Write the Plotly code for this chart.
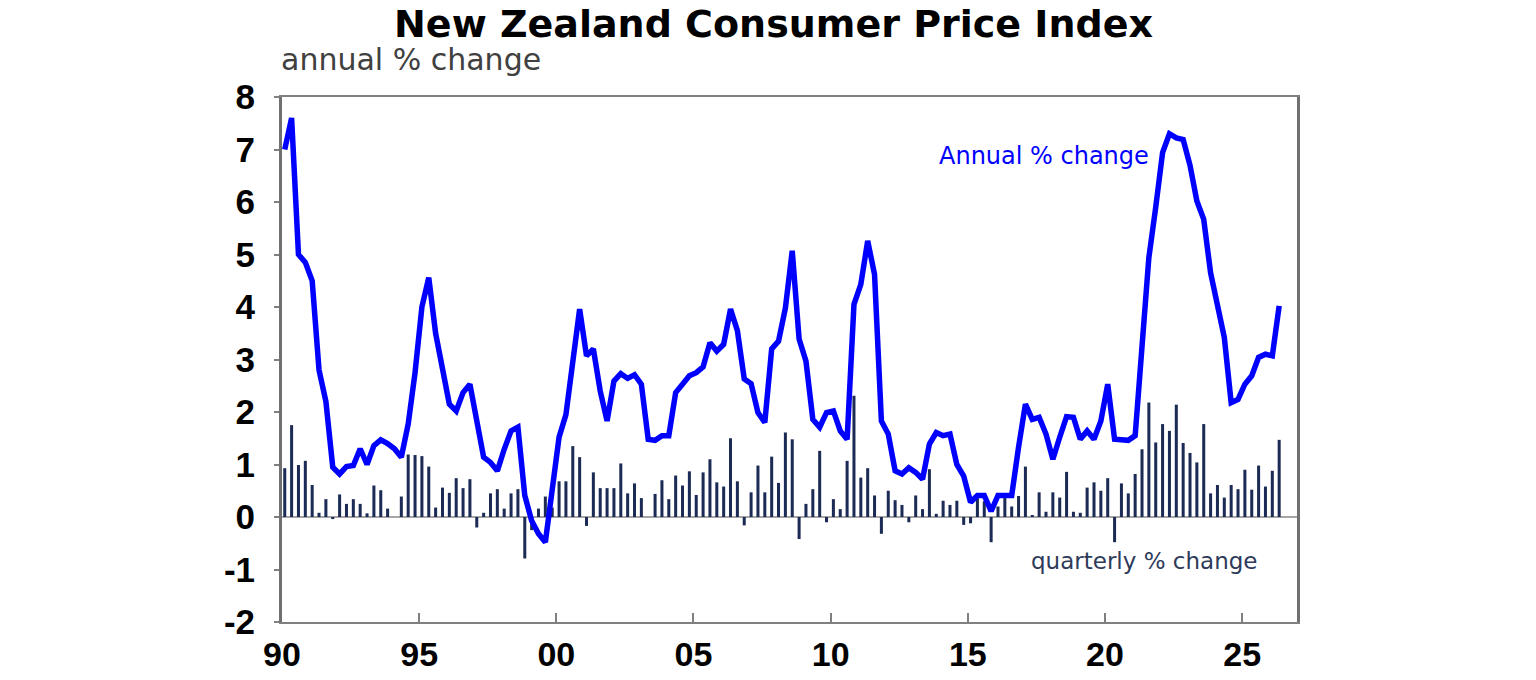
import plotly.graph_objects as go

# Quarterly observations, 1990Q1 onwards
start_year = 1990
annual_change = [
    7.0, 7.6, 5.0, 4.85, 4.5, 2.8, 2.2, 0.95,
    0.82, 0.96, 0.98, 1.3, 1.0, 1.36, 1.47, 1.4,
    1.3, 1.14, 1.77, 2.75, 4.0, 4.56, 3.5, 2.85,
    2.15, 2.02, 2.37, 2.53, 1.8, 1.14, 1.04, 0.88,
    1.29, 1.64, 1.71, 0.41, -0.07, -0.32, -0.48, 0.5,
    1.52, 1.95, 2.91, 3.96, 3.07, 3.2, 2.4, 1.83,
    2.59, 2.73, 2.64, 2.71, 2.53, 1.48, 1.46, 1.55,
    1.55, 2.37, 2.53, 2.69, 2.75, 2.86, 3.32, 3.16,
    3.29, 3.96, 3.55, 2.63, 2.54, 1.99, 1.80, 3.20,
    3.35, 3.98, 5.07, 3.39, 2.97, 1.86, 1.71, 1.99,
    2.02, 1.64, 1.48, 4.05, 4.43, 5.26, 4.62, 1.83,
    1.58, 0.88, 0.82, 0.94, 0.85, 0.72, 1.39, 1.61,
    1.55, 1.58, 1.0, 0.78, 0.28, 0.41, 0.41, 0.11,
    0.41, 0.41, 0.41, 1.33, 2.15, 1.86, 1.90, 1.58,
    1.10, 1.52, 1.91, 1.90, 1.48, 1.64, 1.48, 1.83,
    2.53, 1.48, 1.46, 1.46, 1.55, 3.3, 4.94, 5.9,
    6.94, 7.30, 7.22, 7.19, 6.7, 6.02, 5.67, 4.65,
    4.0, 3.42, 2.18, 2.24, 2.53, 2.69, 3.04, 3.10,
    3.07, 4.02,
]
quarterly_change = [
    0.93, 1.75, 0.99, 1.07, 0.61, 0.08, 0.34, -0.04,
    0.43, 0.25, 0.34, 0.25, 0.07, 0.60, 0.51, 0.16,
    0.0, 0.39, 1.19, 1.18, 1.16, 0.96, 0.18, 0.56,
    0.46, 0.74, 0.55, 0.72, -0.20, 0.08, 0.45, 0.53,
    0.16, 0.45, 0.53, -0.79, -0.25, 0.16, 0.39, 0.18,
    0.68, 0.68, 1.35, 1.14, -0.17, 0.85, 0.55, 0.55,
    0.55, 1.02, 0.45, 0.64, 0.36, 0.0, 0.44, 0.70,
    0.34, 0.79, 0.60, 0.87, 0.42, 0.85, 1.10, 0.66,
    0.58, 1.50, 0.68, -0.16, 0.47, 0.98, 0.47, 1.15,
    0.65, 1.61, 1.48, -0.42, 0.25, 0.53, 1.26, -0.10,
    0.34, 0.15, 1.07, 2.31, 0.75, 0.93, 0.41, -0.32,
    0.50, 0.32, 0.23, -0.10, 0.41, 0.15, 0.91, 0.06,
    0.31, 0.23, 0.31, -0.15, -0.12, 0.40, 0.30, -0.48,
    0.20, 0.40, 0.20, 0.40, 0.96, 0.02, 0.47, 0.10,
    0.47, 0.37, 0.86, 0.10, 0.08, 0.56, 0.66, 0.50,
    0.74, -0.48, 0.64, 0.45, 0.82, 1.29, 2.18, 1.42,
    1.77, 1.64, 2.14, 1.41, 1.22, 1.04, 1.77, 0.45,
    0.61, 0.37, 0.61, 0.53, 0.90, 0.52, 0.98, 0.58,
    0.88, 1.47,
]
tick_years = [1990, 1995, 2000, 2005, 2010, 2015, 2020, 2025]
tick_labels = ["90", "95", "00", "05", "10", "15", "20", "25"]
y_ticks = [-2, -1, 0, 1, 2, 3, 4, 5, 6, 7, 8]
y_tick_labels = ["-2", "-1", "0", "1", "2", "3", "4", "5", "6", "7", "8"]

# decimal-year position of each quarter
x = [start_year + i * 0.25 + 0.1 for i in range(len(annual_change))]

fig = go.Figure()
fig.add_trace(go.Bar(
    x=x, y=quarterly_change, width=0.11,
    marker=dict(color="#1c2b55", line=dict(width=0)),
    showlegend=False, hoverinfo="x+y",
))
fig.add_trace(go.Scatter(
    x=x, y=annual_change, mode="lines",
    line=dict(color="#0000ff", width=5.5),
    showlegend=False,
))

fig.update_layout(
    width=1536, height=680,
    margin=dict(l=282, r=239, t=97, b=58),
    paper_bgcolor="white", plot_bgcolor="white",
    title=dict(
        text="<b>New Zealand Consumer Price Index</b>",
        x=0.5036, xanchor="center", xref="container",
        y=0.965, yanchor="middle", yref="container",
        font=dict(family="DejaVu Sans", size=38, color="#000000"),
    ),
    xaxis=dict(
        range=[1990, 2027], tickmode="array",
        tickvals=tick_years, ticktext=tick_labels,
        ticks="inside", ticklen=9, tickwidth=1.5, tickcolor="#808080",
        showgrid=False, zeroline=False, automargin=False,
        showline=True, linecolor="#808080", linewidth=2, mirror=True,
        tickfont=dict(family="Liberation Sans", size=34, color="#000000", weight="bold"),
        ticklabelstandoff=1,
    ),
    yaxis=dict(
        range=[-2, 8], tickmode="array", tickvals=y_ticks, ticktext=y_tick_labels,
        ticks="outside", ticklen=5, tickwidth=1.5, tickcolor="#808080",
        showgrid=False, automargin=False,
        zeroline=True, zerolinecolor="#a6a6a6", zerolinewidth=2,
        showline=True, linecolor="#707070", linewidth=3, mirror=True,
        tickfont=dict(family="Liberation Sans", size=35, color="#000000", weight="bold"),
        ticklabelstandoff=12,
    ),
    annotations=[
        dict(text="annual % change", xref="paper", yref="paper",
             x=-0.003, y=1.071, xanchor="left", yanchor="middle",
             showarrow=False,
             font=dict(family="DejaVu Sans", size=30, color="#404040")),
        dict(text="Annual % change", xref="x", yref="y",
             x=2021.68, y=6.87, xanchor="right", yanchor="middle",
             showarrow=False,
             font=dict(family="DejaVu Sans", size=24, color="#0000ff")),
        dict(text="quarterly % change", xref="x", yref="y",
             x=2025.62, y=-0.83, xanchor="right", yanchor="middle",
             showarrow=False,
             font=dict(family="DejaVu Sans", size=23, color="#2e3a59")),
    ],
)

fig.write_html("out.html")
